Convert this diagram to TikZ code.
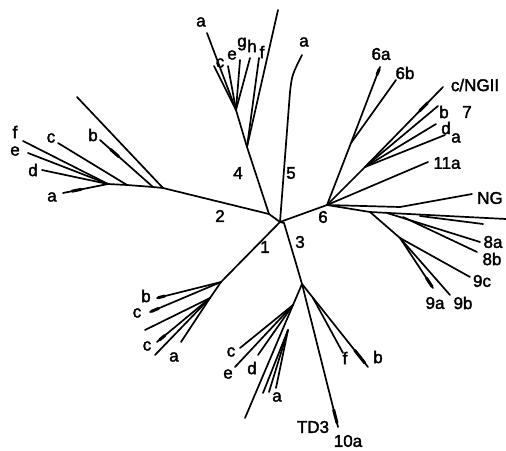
\documentclass[tikz,border=0pt]{standalone}
\usepackage{fontspec}
\usetikzlibrary{calc}
\setmainfont{Liberation Sans}
\newfontfamily\lblfont[FakeBold=2]{Liberation Sans}
\begin{document}
\begin{tikzpicture}[x=1pt,y=-1pt,
  br/.style={line width=1.7pt,line join=round,line cap=round},
  tip/.style={line width=3pt,line cap=round},
  lbl/.style={inner sep=0pt,font=\lblfont\fontsize{17}{17}\selectfont}]
\useasboundingbox (0,0) rectangle (506,450);

% ---- central nodes
\coordinate (c24) at (269,214);
\coordinate (c0)  at (280,222);
\draw[br] (c24) -- (c0);

% ---- clade 2 (left)
\coordinate (j2)  at (163,188);
\coordinate (j2b) at (153,187);
\coordinate (j2c) at (127,185);
\coordinate (j2f) at (108,184);
\coordinate (t2L) at (77,97);
\coordinate (t2b) at (100,140);
\coordinate (t2c) at (58,143);
\coordinate (t2f) at (23,141);
\coordinate (t2e) at (28,153);
\coordinate (t2d) at (42,170);
\coordinate (t2a) at (63,193);
\draw[br] (c24) -- (j2) -- (j2b) -- (j2c) -- (j2f);
\draw[br] (j2) -- (t2L);
\draw[br] (j2b) -- (t2b);
\draw[br] (j2c) -- (t2c);
\draw[br] (j2f) -- (t2f);
\draw[br] (j2f) -- (t2e);
\draw[br] (j2f) -- (t2d);
\draw[br] (j2f) -- (t2a);
\draw[tip] ($(t2b)!0.2!(j2b)$) -- ($(t2b)!0.35!(j2b)$);
\draw[tip] ($(t2a)!0.2!(j2f)$) -- ($(t2a)!0.4!(j2f)$);
\node[lbl] (l2b) at (93,135) {b};
\node[lbl] (l2c) at (51,138) {c};
\node[lbl] (l2f) at (15,132) {f};
\node[lbl] (l2e) at (15,151) {e};
\node[lbl] (l2d) at (33,170) {d};
\node[lbl] (l2a) at (52,197) {a};

% ---- clade 4 (top)
\coordinate (j4)  at (247,147);
\coordinate (j4a) at (236,110);
\coordinate (t4L) at (278,10);
\coordinate (t4a) at (207,33);
\coordinate (t4c) at (214,66);
\coordinate (t4e) at (228,66);
\coordinate (t4g) at (240,60);
\coordinate (t4h) at (250,58);
\coordinate (t4f) at (259,58);
\draw[br] (c24) -- (j4) -- (j4a);
\draw[br] (j4) -- (t4L);
\draw[br] (j4a) -- (t4a);
\draw[br] (j4a) -- (t4c);
\draw[br] (j4a) -- (t4e);
\draw[br] (j4a) -- (t4g);
\draw[br] (j4a) -- (t4h);
\draw[br] (j4) -- (t4f);
\node[lbl] (l4a) at (201,22) {a};
\node[lbl] (l4c) at (220,63) {c};
\node[lbl] (l4e) at (232,55) {e};
\node[lbl] (l4g) at (242,44) {g};
\node[lbl] (l4h) at (252,46) {h};
\node[lbl] (l4f) at (262,52) {f};

% ---- clade 5
\coordinate (k5)  at (290,92);
\coordinate (t5a) at (302,55);
\draw[br] (c0) -- (k5) .. controls (292,75) .. (t5a);
\node[lbl] (l5a) at (304,42) {a};

% ---- clade 6 (right)
\coordinate (j6)  at (327,205);
\coordinate (k6)  at (351,143);
\coordinate (t6a) at (380,67);
\coordinate (t6b) at (396,80);
\coordinate (j7)  at (365,167);
\coordinate (t7c) at (443,87);
\coordinate (t7b) at (438,106);
\coordinate (t7d) at (436,124);
\coordinate (t7a) at (445,135);
\coordinate (t11) at (428,162);
\coordinate (kNG) at (400,207);
\coordinate (tNG) at (472,194);
\coordinate (j9)  at (370,212);
\coordinate (tE)  at (506,219);
\coordinate (k8)  at (420,216);
\coordinate (t8x) at (483,224);
\coordinate (k8a) at (387,213);
\coordinate (t8a) at (480,242);
\coordinate (k8b) at (403,217);
\coordinate (t8b) at (477,252);
\coordinate (j9b) at (400,238);
\coordinate (t9c) at (470,277);
\coordinate (t9a) at (433,288);
\coordinate (t9b) at (450,295);
\draw[br] (c0) -- (j6);
\draw[br] (j6) -- (k6) -- (t6a);
\draw[br] (k6) -- (t6b);
\draw[br] (j6) -- (j7) -- (t7c);
\draw[br] (j7) -- (t7b);
\draw[br] (j7) -- (t7d);
\draw[br] (j7) -- (t7a);
\draw[br] (j6) -- (t11);
\draw[br] (j6) -- (kNG) -- (tNG);
\draw[br] (j6) -- (j9) -- (tE);
\draw[br] (k8) -- (t8x);
\draw[br] (k8a) -- (t8a);
\draw[br] (k8b) -- (t8b);
\draw[br] (j9) -- (j9b) -- (t9c);
\draw[br] (j9b) -- (t9a);
\draw[br] (j9b) -- (t9b);
\draw[tip] ($(t6a)!0.03!(k6)$) -- ($(t6a)!0.1!(k6)$);
\draw[tip] ($(t7c)!0.2!(j7)$) -- ($(t7c)!0.3!(j7)$);
\draw[tip] ($(t9a)!0.03!(j9b)$) -- ($(t9a)!0.2!(j9b)$);
\node[lbl] (l6a) at (381,54) {6a};
\node[lbl] (l6b) at (405,73) {6b};
\node[lbl] (l7c) at (475,85) {c/NGII};
\node[lbl] (l7b) at (444,112) {b};
\node[lbl] (l7)  at (467,112) {7};
\node[lbl] (l7d) at (446,128) {d};
\node[lbl] (l7a) at (456,138) {a};
\node[lbl] (l11) at (447,163) {11a};
\node[lbl] (lNG) at (490,198) {NG};
\node[lbl] (l8a) at (493,242) {8a};
\node[lbl] (l8b) at (492,259) {8b};
\node[lbl] (l9c) at (482,281) {9c};
\node[lbl] (l9a) at (435,303) {9a};
\node[lbl] (l9b) at (463,303) {9b};

% ---- clade 1 (lower left)
\coordinate (j1)  at (221,282);
\coordinate (j1b) at (210,298);
\coordinate (t1b) at (157,298);
\coordinate (t1c) at (150,312);
\coordinate (t1x) at (145,330);
\coordinate (t1d) at (157,342);
\coordinate (t1y) at (155,355);
\coordinate (t1a) at (181,342);
\draw[br] (c0) -- (j1) -- (j1b);
\draw[br] (j1) -- (t1b);
\draw[br] (j1) -- (t1c);
\draw[br] (j1b) -- (t1x);
\draw[br] (j1b) -- (t1d);
\draw[br] (j1b) -- (t1y);
\draw[br] (j1b) -- (t1a);
\draw[tip] ($(t1b)!0.02!(j1)$) -- ($(t1b)!0.12!(j1)$);
\draw[tip] ($(t1c)!0.02!(j1)$) -- ($(t1c)!0.12!(j1)$);
\draw[tip] ($(t1d)!0.05!(j1b)$) -- ($(t1d)!0.15!(j1b)$);
\node[lbl] (l1b) at (146,296) {b};
\node[lbl] (l1c) at (137,313) {c};
\node[lbl] (l1d) at (147,346) {c};
\node[lbl] (l1a) at (174,357) {a};

% ---- clade 3 (lower)
\coordinate (c3)  at (284,223);
\coordinate (k3)  at (295,260);
\coordinate (j3)  at (302,284);
\coordinate (j3L) at (293,305);
\coordinate (j3a) at (288,330);
\coordinate (t3c) at (240,348);
\coordinate (t3e) at (235,367);
\coordinate (t3d) at (258,355);
\coordinate (t3L) at (245,418);
\coordinate (t3a1) at (263,393);
\coordinate (t3a2) at (269,392);
\coordinate (t3a3) at (276,388);
\coordinate (t3b) at (368,367);
\coordinate (k3f) at (313,298);
\coordinate (t3f) at (343,353);
\coordinate (tTD) at (338,427);
\draw[br] (c0) -- (c3) -- (k3) -- (j3) -- (j3L);
\draw[br] (j3L) -- (t3c);
\draw[br] (j3L) -- (t3e);
\draw[br] (j3L) -- (t3d);
\draw[br] (j3L) -- (t3L);
\draw[br] (j3a) -- (t3a1);
\draw[br] (j3a) -- (t3a2);
\draw[br] (j3a) -- (t3a3);
\draw[br] (j3) -- (t3b);
\draw[br] (k3f) -- (t3f);
\draw[br] (j3) -- (tTD);
\draw[tip] ($(t3b)!0.05!(j3)$) -- ($(t3b)!0.2!(j3)$);
\draw[tip] ($(tTD)!0.03!(j3)$) -- ($(tTD)!0.12!(j3)$);
\node[lbl] (l3c) at (231,352) {c};
\node[lbl] (l3e) at (228,374) {e};
\node[lbl] (l3d) at (252,368) {d};
\node[lbl] (l3a) at (277,397) {a};
\node[lbl] (l3f) at (345,358) {f};
\node[lbl] (l3b) at (378,357) {b};
\node[lbl] (lTD) at (313,427) {TD3};
\node[lbl] (l10) at (348,441) {10a};

% ---- branch numbers
\node[lbl] (n4) at (238,173) {4};
\node[lbl] (n5) at (291,173) {5};
\node[lbl] (n2) at (220,216) {2};
\node[lbl] (n6) at (323,217) {6};
\node[lbl] (n1) at (265,247) {1};
\node[lbl] (n3) at (300,242) {3};
\end{tikzpicture}
\end{document}
